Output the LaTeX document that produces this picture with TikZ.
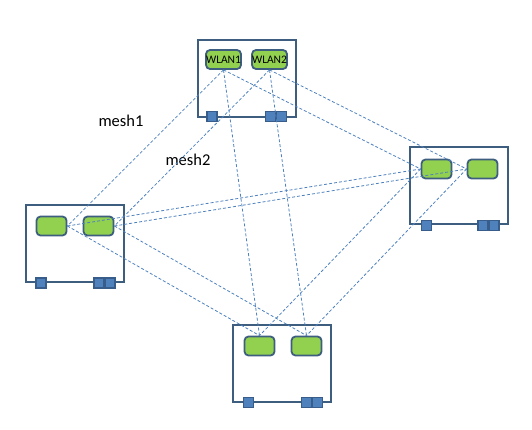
\documentclass[tikz,border=0pt]{standalone}
\usepackage{fontspec}
\setmainfont{Carlito}
\usepackage{tikz}
\tikzset{
    every node/.style={align=center,inner sep=0pt,},
    router/.style={draw=boxblue,line width=2pt,rectangle,minimum width=98pt,minimum height=77pt,},
    radio/.style={draw=boxblue,line width=1.8pt,fill=radiogreen,rectangle,rounded corners=4pt,minimum width=30pt,minimum height=19pt,font=\fontsize{11.5}{13}\selectfont,},
    port/.style={draw=portedge,line width=1.2pt,fill=portblue,rectangle,minimum size=10pt,},
    link/.style={draw=linkblue,line width=0.8pt,dash pattern=on 3pt off 2pt,},
}
\definecolor{boxblue}{RGB}{62,94,128}
\definecolor{radiogreen}{RGB}{146,208,80}
\definecolor{portblue}{RGB}{79,129,189}
\definecolor{portedge}{RGB}{56,93,138}
\definecolor{linkblue}{RGB}{79,129,189}

\begin{document}
\begin{tikzpicture}[x=1pt,y=-1pt]
                \useasboundingbox (0,0) rectangle (532,430);

                \node[router] (top) at (246.5, 78.5) {};
                \node[router] (left) at (75, 243.5) {};
                \node[router] (right) at (459, 186) {};
                \node[router] (bottom) at (282, 363.5) {};

                \node[port] (top_p1) at (212, 116.5) {};
                \node[port] (top_p2) at (270.5, 116.5) {};
                \node[port] (top_p3) at (281.5, 116.5) {};
                \node[port] (left_p1) at (41, 283) {};
                \node[port] (left_p2) at (99, 283) {};
                \node[port] (left_p3) at (110, 283) {};
                \node[port] (right_p1) at (426.5, 225.5) {};
                \node[port] (right_p2) at (483, 225.5) {};
                \node[port] (right_p3) at (494, 225.5) {};
                \node[port] (bottom_p1) at (248.5, 402.5) {};
                \node[port] (bottom_p2) at (306.5, 402.5) {};
                \node[port] (bottom_p3) at (317.5, 402.5) {};

                \node[radio] (top_w1) at (223.5, 59.5) {WLAN1};
                \node[radio] (top_w2) at (269.5, 59.5) {WLAN2};
                \node[radio] (left_w1) at (51.5, 226) {};
                \node[radio] (left_w2) at (98.5, 226) {};
                \node[radio] (right_w1) at (436.5, 169) {};
                \node[radio] (right_w2) at (482.5, 169) {};
                \node[radio] (bottom_w1) at (259.5, 346) {};
                \node[radio] (bottom_w2) at (306.5, 346) {};

                \node[font=\fontsize{16.5}{19}\selectfont] (mesh1) at (121, 121) {mesh1};
                \node[font=\fontsize{16.5}{19}\selectfont] (mesh2) at (188, 160) {mesh2};

                % mesh1
                \draw[link] (top_w1.south) to (left_w1.east);
                \draw[link] (top_w1.south) to (right_w1.west);
                \draw[link] (top_w1.south) to (bottom_w1.north);
                \draw[link] (left_w1.east) to (right_w1.west);
                \draw[link] (left_w1.east) to (bottom_w1.north);
                \draw[link] (right_w1.west) to (bottom_w1.north);

                % mesh2
                \draw[link] (top_w2.south) to (left_w2.east);
                \draw[link] (top_w2.south) to (right_w2.west);
                \draw[link] (top_w2.south) to (bottom_w2.north);
                \draw[link] (left_w2.east) to (right_w2.west);
                \draw[link] (left_w2.east) to (bottom_w2.north);
                \draw[link] (right_w2.west) to (bottom_w2.north);
            \end{tikzpicture}
\end{document}
